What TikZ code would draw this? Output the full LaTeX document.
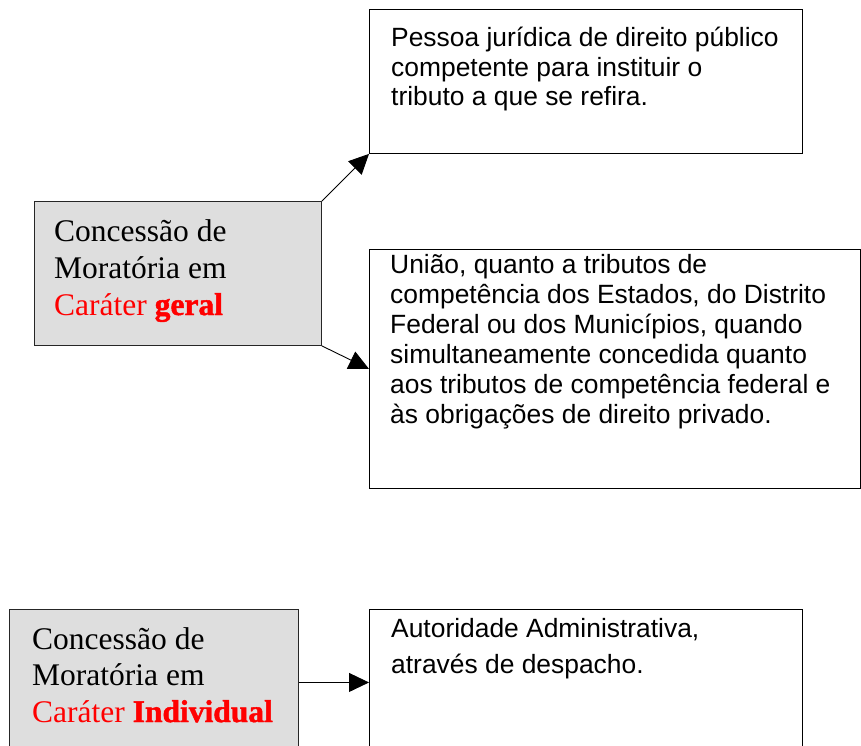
\documentclass[tikz,border=0pt]{standalone}
\usepackage{fontspec}
\setmainfont{Liberation Serif}
\newfontfamily\arialfont{Liberation Sans}
\newfontfamily\heavyserif{Liberation Serif}[BoldFeatures={FakeBold=1.5}]
\usetikzlibrary{arrows.meta}
\definecolor{boxgray}{RGB}{222,222,222}
\definecolor{txtred}{RGB}{255,0,0}
\tikzset{
  graybox/.style={draw=black!85, line width=0.9pt, fill=boxgray},
  whitebox/.style={draw=black, line width=0.9pt, fill=white},
  serifline/.style={anchor=base west, inner sep=0pt, font=\fontsize{31.5}{37}\selectfont},
  sansline/.style={anchor=base west, inner sep=0pt, font=\arialfont\fontsize{26.4}{30}\selectfont},
  conn/.style={line width=0.9pt, -{Triangle[length=20pt,width=19pt]}}
}
\begin{document}
\begin{tikzpicture}[x=1pt,y=-1pt]
\useasboundingbox (0,0) rectangle (861,746);
% boxes
\node[graybox, inner sep=0pt, anchor=north west, minimum width=287pt, minimum height=144pt] (A) at (34,201) {};
\node[whitebox, inner sep=0pt, anchor=north west, minimum width=433pt, minimum height=144pt] (B) at (369,9) {};
\node[whitebox, inner sep=0pt, anchor=north west, minimum width=491pt, minimum height=239pt] (C) at (369,249) {};
\node[graybox, inner sep=0pt, anchor=north west, minimum width=289pt, minimum height=146pt] (D) at (9,609) {};
\node[whitebox, inner sep=0pt, anchor=north west, minimum width=433pt, minimum height=146pt] (E) at (369,609) {};
% box A text
\node[serifline] (a1) at (54,241) {Concessão de};
\node[serifline] (a2) at (54,278) {Moratória em};
\node[serifline] (a3) at (54,315) {\textcolor{txtred}{Caráter {\heavyserif\bfseries geral}}};
% box D text
\node[serifline] (d1) at (32,649) {Concessão de};
\node[serifline] (d2) at (32,685) {Moratória em};
\node[serifline] (d3) at (32,722) {\textcolor{txtred}{Caráter {\heavyserif\bfseries Individual}}};
% box B text
\node[sansline] (b1) at (391,47) {Pessoa jurídica de direito público};
\node[sansline] (b2) at (391,77) {competente para instituir o};
\node[sansline] (b3) at (391,106) {tributo a que se refira.};
% box C text
\node[sansline] (c1) at (390,273) {União, quanto a tributos de};
\node[sansline] (c2) at (390,303) {competência dos Estados, do Distrito};
\node[sansline] (c3) at (390,333) {Federal ou dos Municípios, quando};
\node[sansline] (c4) at (390,363) {simultaneamente concedida quanto};
\node[sansline] (c5) at (390,393) {aos tributos de competência federal e};
\node[sansline] (c6) at (390,423) {às obrigações de direito privado.};
% box E text
\node[sansline] (e1) at (391,637) {Autoridade Administrativa,};
\node[sansline] (e2) at (391,673) {através de despacho.};
% connectors
\draw[conn] (A.north east) -- (B.south west);
\draw[conn] (A.south east) -- (C.west);
\draw[conn] (D.east) -- (E.west);
\end{tikzpicture}
\end{document}
